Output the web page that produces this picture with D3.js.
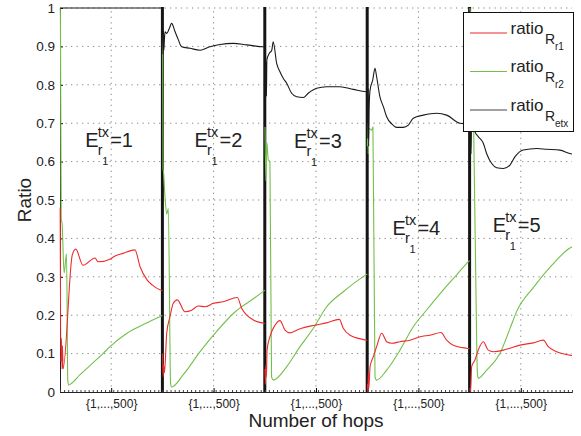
<!DOCTYPE html>
<html>
<head>
<meta charset="utf-8">
<script src="https://cdn.jsdelivr.net/npm/d3@7"></script>
<style>
  body { margin: 0; background: #fff; }
  svg text { font-family: "Liberation Sans", Arial, sans-serif; fill: #222; }
</style>
</head>
<body>
<svg width="581" height="436"></svg>
<script>
// ---- data (hop, ratio) per segment ----
let segments = [1, 2, 3, 4, 5];
let hopsPerSeg = 500;
let yTicks = [0, 0.1, 0.2, 0.3, 0.4, 0.5, 0.6, 0.7, 0.8, 0.9, 1];
let xTickLabel = "{1,...,500}";
let legendSubs = ["r1", "r2", "etx"];
// where each "E" label sits (hop inside its segment, ratio of baseline)
let labelHops = [123, 157, 143, 123, 113];
let labelRatios = [0.638, 0.638, 0.635, 0.409, 0.417];

let r1Seg1 = [[1,0.48],[4,0.08],[7,0.14],[10,0.06],[12,0.12],[15,0.06],[60,0.357],[77,0.372],[112,0.33],[171,0.349],[186,0.339],[244,0.346],[269,0.354],[308,0.361],[366,0.37],[391,0.326],[425,0.292],[450,0.279],[488,0.266],[500,0.264]];
let r1Seg2 = [[1,0.1],[3,0.04],[6,0.07],[10,0.05],[21,0.153],[37,0.196],[53,0.231],[73,0.24],[110,0.209],[143,0.213],[175,0.224],[208,0.222],[249,0.231],[297,0.235],[366,0.246],[387,0.218],[412,0.2],[444,0.1875],[493,0.179],[500,0.178]];
let r1Seg3 = [[1,0.06],[3,0.02],[5,0.07],[8,0.04],[11,0.109],[25,0.144],[50,0.174],[74,0.186],[99,0.161],[123,0.154],[156,0.161],[180,0.166],[245,0.174],[302,0.18],[364,0.189],[383,0.166],[416,0.148],[494,0.135],[500,0.134]];
let r1Seg4 = [[1,0.02],[3,0.002],[6,0.05],[8,0.01],[14,0.066],[30,0.092],[46,0.118],[71,0.153],[95,0.131],[120,0.127],[160,0.131],[209,0.135],[258,0.144],[307,0.148],[360,0.155],[388,0.135],[420,0.122],[486,0.114],[500,0.113]];
let r1Seg5 = [[1,0.01],[4,0.002],[7,0.03],[10,0.066],[26,0.083],[42,0.109],[67,0.131],[91,0.109],[116,0.105],[165,0.109],[197,0.114],[246,0.122],[311,0.128],[360,0.135],[384,0.118],[425,0.105],[490,0.096],[500,0.095]];

let r2Seg1 = [[1,1.0],[2,0.98],[6,0.45],[10,0.44],[20,0.31],[32,0.36],[38,0.03],[42,0.018],[55,0.022],[98,0.045],[161,0.076],[210,0.1],[244,0.118],[327,0.153],[405,0.175],[488,0.196],[500,0.199]];
let r2Seg2 = [[1,0.93],[3,0.58],[5,0.575],[13,0.505],[21,0.463],[29,0.478],[40,0.022],[45,0.013],[102,0.045],[184,0.105],[265,0.158],[356,0.209],[428,0.237],[493,0.262],[500,0.265]];
let r2Seg3 = [[1,0.69],[5,0.55],[10,0.65],[17,0.604],[25,0.6],[33,0.04],[42,0.031],[107,0.066],[172,0.118],[237,0.166],[302,0.222],[383,0.261],[494,0.305],[500,0.307]];
let r2Seg4 = [[1,0.64],[3,0.7],[5,0.62],[7,0.687],[22,0.682],[28,0.69],[38,0.04],[46,0.031],[95,0.057],[160,0.109],[225,0.17],[290,0.2135],[372,0.266],[437,0.305],[486,0.335],[500,0.342]];
let r2Seg5 = [[1,1.0],[5,0.98],[12,0.9],[20,0.68],[30,0.3],[38,0.05],[42,0.036],[83,0.057],[148,0.1],[197,0.165],[230,0.21],[311,0.272],[393,0.325],[490,0.375],[500,0.378]];

let etxSeg1 = [[1,1.0],[500,1.0]];
let etxSeg2 = [[1,0.93],[3,0.88],[5,0.94],[7,0.89],[10,0.92],[13,0.938],[21,0.934],[34,0.947],[45,0.96],[62,0.938],[78,0.917],[94,0.899],[135,0.895],[184,0.89],[232,0.899],[281,0.905],[346,0.908],[412,0.904],[493,0.899],[500,0.899]];
let etxSeg3 = [[1,0.84],[3,0.76],[5,0.86],[8,0.77],[10,0.865],[22,0.882],[34,0.89],[41,0.912],[58,0.856],[74,0.834],[90,0.817],[107,0.804],[131,0.778],[156,0.769],[188,0.767],[212,0.778],[253,0.791],[302,0.795],[367,0.795],[432,0.788],[494,0.782],[500,0.782]];
let etxSeg4 = [[1,0.8],[3,0.66],[5,0.79],[7,0.64],[10,0.75],[14,0.786],[27,0.8125],[38,0.843],[46,0.821],[62,0.769],[79,0.743],[95,0.717],[120,0.698],[144,0.689],[176,0.689],[201,0.695],[225,0.713],[274,0.721],[339,0.726],[388,0.721],[453,0.7],[500,0.698]];
let etxSeg5 = [[1,0.68],[3,0.6],[5,0.7],[7,0.62],[10,0.72],[14,0.75],[19,0.77],[26,0.678],[42,0.665],[67,0.648],[83,0.621],[108,0.595],[132,0.584],[165,0.582],[197,0.591],[222,0.613],[262,0.63],[328,0.634],[376,0.632],[441,0.63],[490,0.621],[500,0.62]];

let seriesR1 = [r1Seg1, r1Seg2, r1Seg3, r1Seg4, r1Seg5];
let seriesR2 = [r2Seg1, r2Seg2, r2Seg3, r2Seg4, r2Seg5];
let seriesEtx = [etxSeg1, etxSeg2, etxSeg3, etxSeg4, etxSeg5];

let red = "#ee2b2b", green = "#72c04a", black = "#1a1a1a";

// ---- svg + scales ----
let svg = d3.select("svg");
let margin = { top: 8, right: 9, bottom: 44, left: 60 };
let width = +svg.attr("width"), height = +svg.attr("height");

let x = d3.scaleLinear()
  .domain([0, segments.length * hopsPerSeg])
  .range([margin.left, width - margin.right]);
let y = d3.scaleLinear()
  .domain([0, 1])
  .range([height - margin.bottom, margin.top]);

svg.append("rect").attr("width", width).attr("height", height).attr("fill", "#fff");

let centers = segments.map((s, i) => i * hopsPerSeg + hopsPerSeg / 2);
let bounds = segments.slice(1).map((s, i) => (i + 1) * hopsPerSeg);
let xMax = segments.length * hopsPerSeg;

// grid
let grid = svg.append("g").attr("stroke", "#8a8a8a").attr("stroke-dasharray", "1.3,4.2");
grid.selectAll(".hg").data(yTicks.slice(1)).enter().append("line")
  .attr("x1", x(0)).attr("x2", x(xMax))
  .attr("y1", d => y(d)).attr("y2", d => y(d));
grid.selectAll(".vg").data(centers).enter().append("line")
  .attr("x1", d => x(d)).attr("x2", d => x(d))
  .attr("y1", y(0)).attr("y2", y(1));

// segment separators
svg.append("g").selectAll("line").data(bounds).enter().append("line")
  .attr("x1", d => x(d)).attr("x2", d => x(d))
  .attr("y1", y(0)).attr("y2", y(1) - 1)
  .attr("stroke", "#151515").attr("stroke-width", 3);

// axes
let yAxis = svg.append("g")
  .attr("transform", "translate(" + x(0) + ",0)")
  .call(d3.axisLeft(y).tickValues(yTicks).tickSize(-3).tickPadding(5).tickFormat(d3.format("~g")));
yAxis.select(".domain").attr("stroke", "#222");
yAxis.selectAll("text").style("font-size", "13.5px");

let minor = svg.append("g")
  .attr("transform", "translate(0," + y(0) + ")")
  .call(d3.axisBottom(x).tickValues(d3.range(0, xMax + 1, 20)).tickSize(-2).tickFormat(""));
minor.select(".domain").attr("stroke", "#222");
minor.selectAll(".tick line").attr("stroke", "#444");

let xAxis = svg.append("g")
  .attr("transform", "translate(0," + y(0) + ")")
  .call(d3.axisBottom(x).tickValues(centers).tickSize(-4).tickPadding(7).tickFormat(() => xTickLabel));
xAxis.select(".domain").remove();
xAxis.selectAll("text").style("font-size", "12px");

svg.append("text")
  .attr("x", (x(0) + x(xMax)) / 2).attr("y", 427)
  .attr("text-anchor", "middle").style("font-size", "19px")
  .text("Number of hops");

svg.append("text")
  .attr("transform", "translate(31," + y(0.5) + ")rotate(-90)")
  .attr("text-anchor", "middle").style("font-size", "19px")
  .text("Ratio");

// curves, one path per segment
function drawSeries(list, color) {
  list.forEach((pts, i) => {
    let line = d3.line()
      .x(d => x(i * hopsPerSeg + d[0]))
      .y(d => y(d[1]))
      .curve(d3.curveMonotoneX);
    svg.append("path")
      .attr("d", line(pts))
      .attr("fill", "none")
      .attr("stroke", color)
      .attr("stroke-width", 1.1);
  });
}
drawSeries(seriesR2, green);
drawSeries(seriesR1, red);
drawSeries(seriesEtx, black);

// E labels
segments.forEach((s, i) => {
  let ex = x(i * hopsPerSeg) + labelHops[i] * (x(1) - x(0));
  let by = y(labelRatios[i]);
  let g = svg.append("g");
  g.append("text").attr("x", ex).attr("y", by).style("font-size", "20px").text("E");
  g.append("text").attr("x", ex + 12.5).attr("y", by - 10).style("font-size", "14.5px").text("tx");
  g.append("text").attr("x", ex + 12.5).attr("y", by + 8).style("font-size", "14.5px").text("r");
  g.append("text").attr("x", ex + 17).attr("y", by + 18).style("font-size", "11px").text("1");
  g.append("text").attr("x", ex + 25).attr("y", by).style("font-size", "20px").text("=" + s);
});

// legend
let legend = svg.append("g").attr("transform", "translate(463.5,12.5)");
legend.append("rect").attr("width", 110).attr("height", 119)
  .attr("fill", "#fff").attr("stroke", "#111").attr("stroke-width", 1);
let legendColors = [red, green, "#444"];
legendSubs.forEach((sub, i) => {
  let ly = 20.5 + i * 38.5;
  legend.append("line").attr("x1", 6.5).attr("x2", 43.5).attr("y1", ly).attr("y2", ly)
    .attr("stroke", legendColors[i]).attr("stroke-width", 1.2);
  legend.append("text").attr("x", 47).attr("y", ly + 0.5).style("font-size", "17px").text("ratio");
  legend.append("text").attr("x", 81.5).attr("y", ly + 10.5).style("font-size", "14px").text("R");
  legend.append("text").attr("x", 91.5).attr("y", ly + 16.5).style("font-size", "10px").text(sub);
});
</script>
</body>
</html>
